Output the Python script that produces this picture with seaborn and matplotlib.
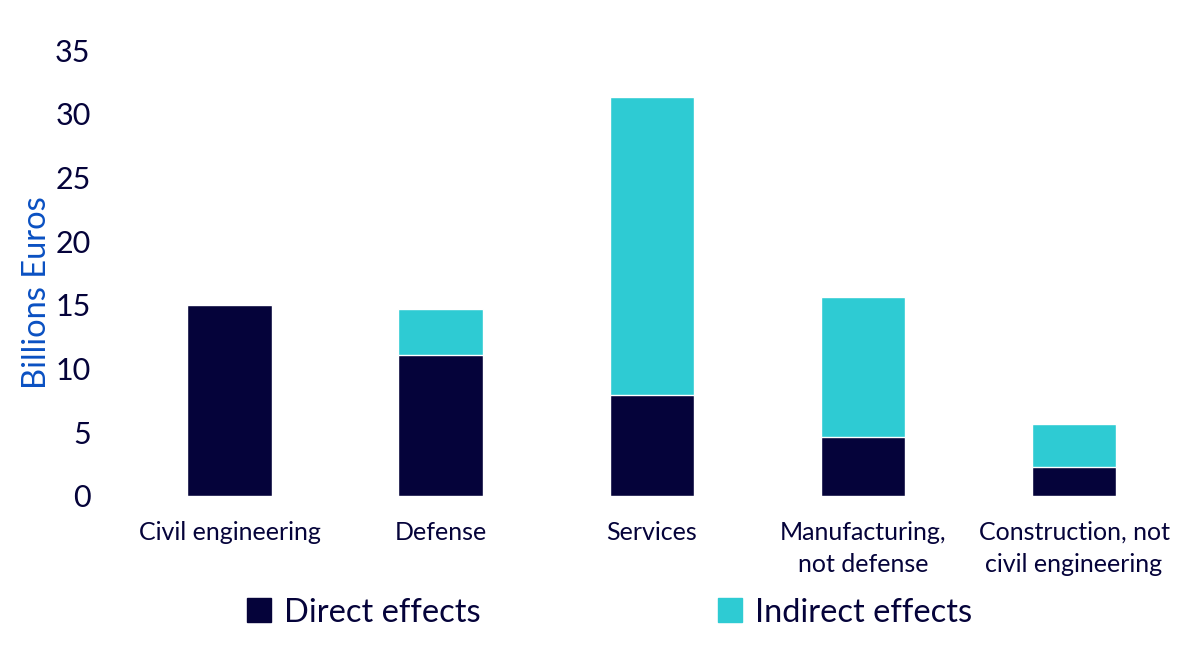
import pandas as pd
import seaborn as sns
import matplotlib.pyplot as plt
from matplotlib.patches import Patch

categories = ['Civil engineering', 'Defense', 'Services',
              'Manufacturing,\nnot defense', 'Construction, not\ncivil engineering']
direct = [15.0, 11.05, 7.9, 4.65, 2.3]
indirect = [0.0, 3.6, 23.4, 11.0, 3.35]
yticks = [0, 5, 10, 15, 20, 25, 30, 35]

navy = '#05033a'
teal = '#2ecbd3'
blue = '#0a50c2'

df = pd.DataFrame({'category': categories, 'direct': direct, 'indirect': indirect})
df['total'] = df['direct'] + df['indirect']

sns.set_style('white')
plt.rcParams['font.family'] = ['Lato', 'DejaVu Sans']

fig = plt.figure(figsize=(12, 6.47), dpi=100)
ax = fig.add_axes([0.1033, 0.2334, 0.8797, 0.6893])

# teal totals first, navy direct part drawn over them
sns.barplot(data=df, x='category', y='total', color=teal, width=0.4,
            saturation=1, ax=ax)
sns.barplot(data=df, x='category', y='direct', color=navy, width=0.4,
            saturation=1, ax=ax)

ax.set_ylim(0, 35)
ax.set_xlim(-0.5, 4.5)
ax.set_yticks(yticks)
ax.tick_params(axis='y', labelsize=22, colors=navy, length=0, pad=24)
ax.tick_params(axis='x', labelsize=18, colors=navy, length=0, pad=18)
for lbl in ax.get_xticklabels():
    lbl.set_linespacing(1.45)
ax.set_xlabel('')
ax.set_ylabel('Billions Euros', fontsize=23.5, color=blue)
ax.yaxis.set_label_coords(-0.068, 0.455)
for s in ax.spines.values():
    s.set_visible(False)

handles = [Patch(color=navy, label='Direct effects'),
           Patch(color=teal, label='Indirect effects')]
fig.legend(handles=handles, loc='center', bbox_to_anchor=(0.508, 0.053), ncol=2,
           frameon=False, fontsize=23.5, columnspacing=7.25, handlelength=0.75,
           handleheight=0.75, handletextpad=0.4, labelcolor=navy)

fig.savefig('out.png', dpi=100)
